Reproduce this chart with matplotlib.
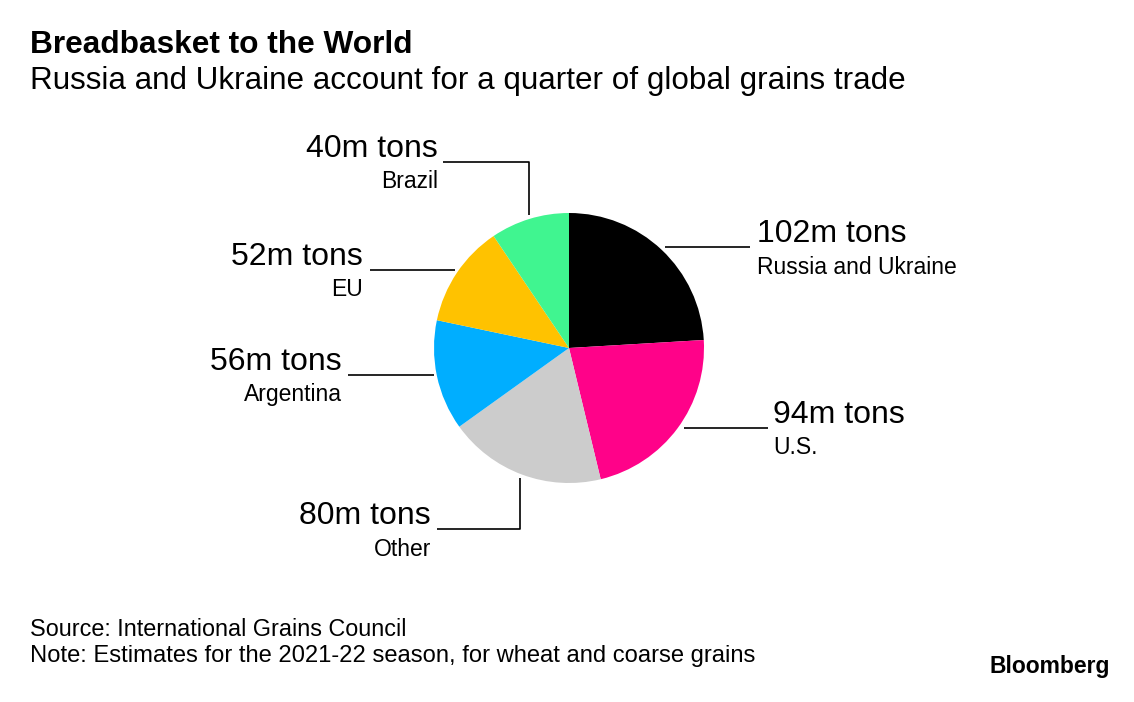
import matplotlib
matplotlib.use('Agg')
import matplotlib.pyplot as plt

# data (million tons, 2021-22)
countries = ['Russia and Ukraine', 'U.S.', 'Other', 'Argentina', 'EU', 'Brazil']
tons = [102, 94, 80, 56, 52, 40]
colors = ['#000000', '#ff0289', '#cccccc', '#00aeff', '#ffc200', '#40f590']

plt.rcParams['font.family'] = ['Liberation Sans', 'DejaVu Sans']

W, H = 1134, 702
fig = plt.figure(figsize=(W / 100, H / 100), dpi=100)
ax = fig.add_axes([0, 0, 1, 1])

def Y(y):
    # flip so I can work in image pixel coords
    return H - y

ax.pie(tons, colors=colors, startangle=90, counterclock=False,
       center=(569, Y(348)), radius=135, frame=True,
       wedgeprops=dict(linewidth=0))
ax.set_xlim(0, W)
ax.set_ylim(0, H)
ax.set_aspect('equal')
ax.axis('off')

# leader lines + label anchor (x, line y, side) per slice
leaders = {
    'Russia and Ukraine': ([665, 750], [247, 247], 757, 247, 'left'),
    'U.S.': ([684, 768], [428, 428], 773, 428, 'left'),
    'Other': ([520, 520, 437], [478, 529, 529], 431, 529, 'right'),
    'Argentina': ([434, 348], [375, 375], 342, 375, 'right'),
    'EU': ([455, 370], [270, 270], 363, 270, 'right'),
    'Brazil': ([529, 529, 443], [215, 162, 162], 438, 162, 'right'),
}

for name, v in zip(countries, tons):
    xs, ys, tx, ty, ha = leaders[name]
    ax.plot(xs, [Y(y) for y in ys], color='black', lw=1.2,
            solid_capstyle='butt')
    ax.text(tx, Y(ty - 13), f'{v}m tons', fontsize=23, ha=ha, va='center')
    ax.text(tx, Y(ty + 20), name, fontsize=16.5, ha=ha, va='center')

fig.text(30 / W, Y(45) / H, 'Breadbasket to the World', fontsize=22.8,
         fontweight='bold', va='center')
fig.text(30 / W, Y(81) / H,
         'Russia and Ukraine account for a quarter of global grains trade',
         fontsize=22.6, va='center')
fig.text(30 / W, Y(629) / H, 'Source: International Grains Council',
         fontsize=16.8, va='center')
fig.text(30 / W, Y(656) / H,
         'Note: Estimates for the 2021-22 season, for wheat and coarse grains',
         fontsize=17.1, va='center')
fig.text(1110 / W, Y(666) / H, 'Bloomberg', fontsize=16.5, fontweight='bold',
         ha='right', va='center')

fig.savefig('out.png', dpi=100, facecolor='white')
